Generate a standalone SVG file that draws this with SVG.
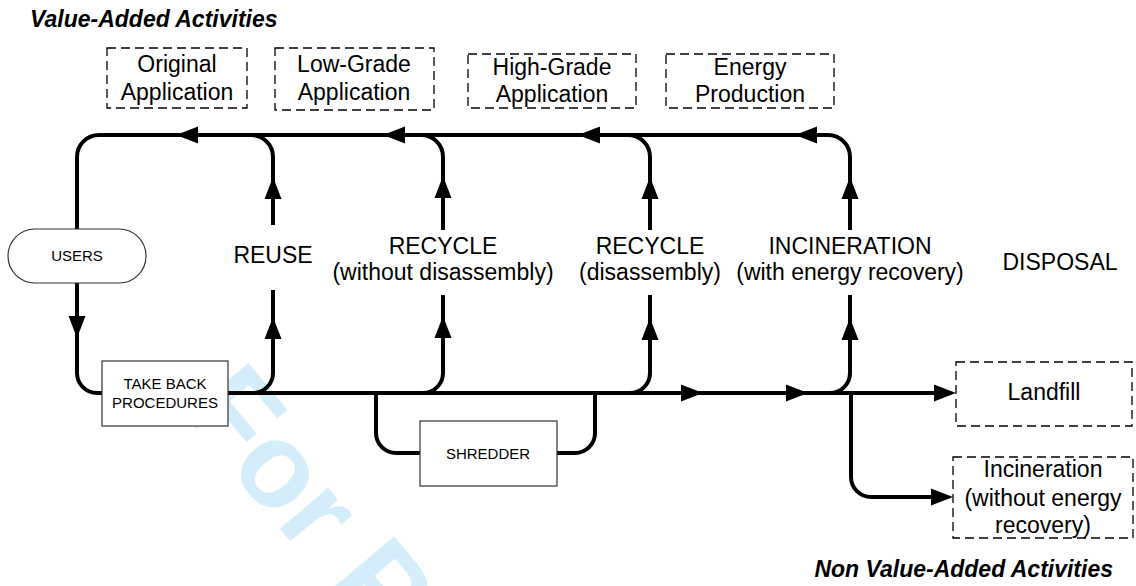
<svg xmlns="http://www.w3.org/2000/svg" xmlns:xlink="http://www.w3.org/1999/xlink" width="1136" height="586" viewBox="0 0 1136 586">
<style>
text { font-family: "Liberation Sans", Arial, sans-serif; fill: #000; }
.big { font-size: 23px; }
.small { font-size: 15px; }
.title { font-size: 23px; font-weight: bold; font-style: italic; }
.mid { text-anchor: middle; }
.dash { fill: #fff; stroke: #000; stroke-width: 1.3; stroke-dasharray: 9 5; }
.box { fill: #fff; stroke: #333; stroke-width: 1.2; }
.conn { fill: none; stroke: #000; stroke-width: 4; stroke-linecap: butt; }
.wm { font-family: "Liberation Sans", Arial, sans-serif; font-size: 120px; font-weight: bold; fill: #d4effb; }
</style>
<defs>
<path id="ah" d="M0 0 L-22 -8.5 L-22 8.5 Z" fill="#000"/>
</defs>
<rect width="1136" height="586" fill="#fff"/>
<text class="wm" transform="translate(180,410) rotate(50)">For Peer Review</text>

<text class="title" x="30" y="27">Value-Added Activities</text>
<text class="title" x="1113" y="577" text-anchor="end">Non Value-Added Activities</text>

<g id="connectors">
  <path class="conn" d="M850 230 V157 A22 22 0 0 0 828 135 H99 A22 22 0 0 0 77 157 V229"/>
  <path class="conn" d="M273 225 V157 A22 22 0 0 0 251 135"/>
  <path class="conn" d="M443 230 V157 A22 22 0 0 0 421 135"/>
  <path class="conn" d="M650 230 V157 A22 22 0 0 0 628 135"/>
  <path class="conn" d="M77 283 V373 A20 20 0 0 0 97 393 H102"/>
  <path class="conn" d="M228 393 H940"/>
  <path class="conn" d="M273 290 V373 A20 20 0 0 1 253 393"/>
  <path class="conn" d="M443 295 V373 A20 20 0 0 1 423 393"/>
  <path class="conn" d="M650 295 V373 A20 20 0 0 1 630 393"/>
  <path class="conn" d="M850 295 V373 A20 20 0 0 1 830 393"/>
  <path class="conn" d="M376 393 V433 A20 20 0 0 0 396 453 H420"/>
  <path class="conn" d="M557 453 H575 A20 20 0 0 0 595 433 V393"/>
  <path class="conn" d="M851 393 V477 A20 20 0 0 0 871 497 H940"/>
  <use xlink:href="#ah" transform="translate(176,135) rotate(180)"/>
  <use xlink:href="#ah" transform="translate(383,135) rotate(180)"/>
  <use xlink:href="#ah" transform="translate(578,135) rotate(180)"/>
  <use xlink:href="#ah" transform="translate(795,135) rotate(180)"/>
  <use xlink:href="#ah" transform="translate(273,177) rotate(-90)"/>
  <use xlink:href="#ah" transform="translate(443,176) rotate(-90)"/>
  <use xlink:href="#ah" transform="translate(650,177) rotate(-90)"/>
  <use xlink:href="#ah" transform="translate(850,177) rotate(-90)"/>
  <use xlink:href="#ah" transform="translate(273,317) rotate(-90)"/>
  <use xlink:href="#ah" transform="translate(443,316) rotate(-90)"/>
  <use xlink:href="#ah" transform="translate(650,318) rotate(-90)"/>
  <use xlink:href="#ah" transform="translate(850,318) rotate(-90)"/>
  <use xlink:href="#ah" transform="translate(77,338) rotate(90)"/>
  <use xlink:href="#ah" transform="translate(703,393)"/>
  <use xlink:href="#ah" transform="translate(808,393)"/>
  <use xlink:href="#ah" transform="translate(956,393)"/>
  <use xlink:href="#ah" transform="translate(953,497)"/>
</g>

<g id="original-application">
  <rect class="dash" x="107" y="48" width="140" height="60"/>
  <text class="big mid" x="177" y="72">Original</text>
  <text class="big mid" x="177" y="100">Application</text>
</g>
<g id="low-grade-application">
  <rect class="dash" x="275" y="48" width="159" height="62"/>
  <text class="big mid" x="354" y="72">Low-Grade</text>
  <text class="big mid" x="354" y="100">Application</text>
</g>
<g id="high-grade-application">
  <rect class="dash" x="468" y="54" width="168" height="54"/>
  <text class="big mid" x="552" y="75">High-Grade</text>
  <text class="big mid" x="552" y="102">Application</text>
</g>
<g id="energy-production">
  <rect class="dash" x="666" y="54" width="168" height="54"/>
  <text class="big mid" x="750" y="75">Energy</text>
  <text class="big mid" x="750" y="102">Production</text>
</g>

<g id="users">
  <rect class="box" x="8" y="229" width="138" height="54" rx="27" ry="27"/>
  <text class="small mid" x="77" y="261">USERS</text>
</g>
<g id="take-back">
  <rect class="box" x="102" y="361" width="126" height="65"/>
  <text class="small mid" x="165" y="389">TAKE BACK</text>
  <text class="small mid" x="165" y="408">PROCEDURES</text>
</g>
<g id="shredder">
  <rect class="box" x="420" y="421" width="137" height="65"/>
  <text class="small mid" x="488" y="459">SHREDDER</text>
</g>

<g id="reuse">
  <text class="big mid" x="273" y="263">REUSE</text>
</g>
<g id="recycle-without">
  <text class="big mid" x="443" y="254">RECYCLE</text>
  <text class="big mid" x="443" y="280">(without disassembly)</text>
</g>
<g id="recycle-disassembly">
  <text class="big mid" x="650" y="254">RECYCLE</text>
  <text class="big mid" x="650" y="280">(disassembly)</text>
</g>
<g id="incineration-energy">
  <text class="big mid" x="850" y="254">INCINERATION</text>
  <text class="big mid" x="850" y="280">(with energy recovery)</text>
</g>
<g id="disposal">
  <text class="big mid" x="1060" y="270">DISPOSAL</text>
</g>

<g id="landfill">
  <rect class="dash" x="956" y="362" width="176" height="64"/>
  <text class="big mid" x="1044" y="400">Landfill</text>
</g>
<g id="incineration-no-energy">
  <rect class="dash" x="953" y="457" width="180" height="81"/>
  <text class="big mid" x="1043" y="477">Incineration</text>
  <text class="big mid" x="1043" y="506">(without energy</text>
  <text class="big mid" x="1043" y="533">recovery)</text>
</g>
</svg>
